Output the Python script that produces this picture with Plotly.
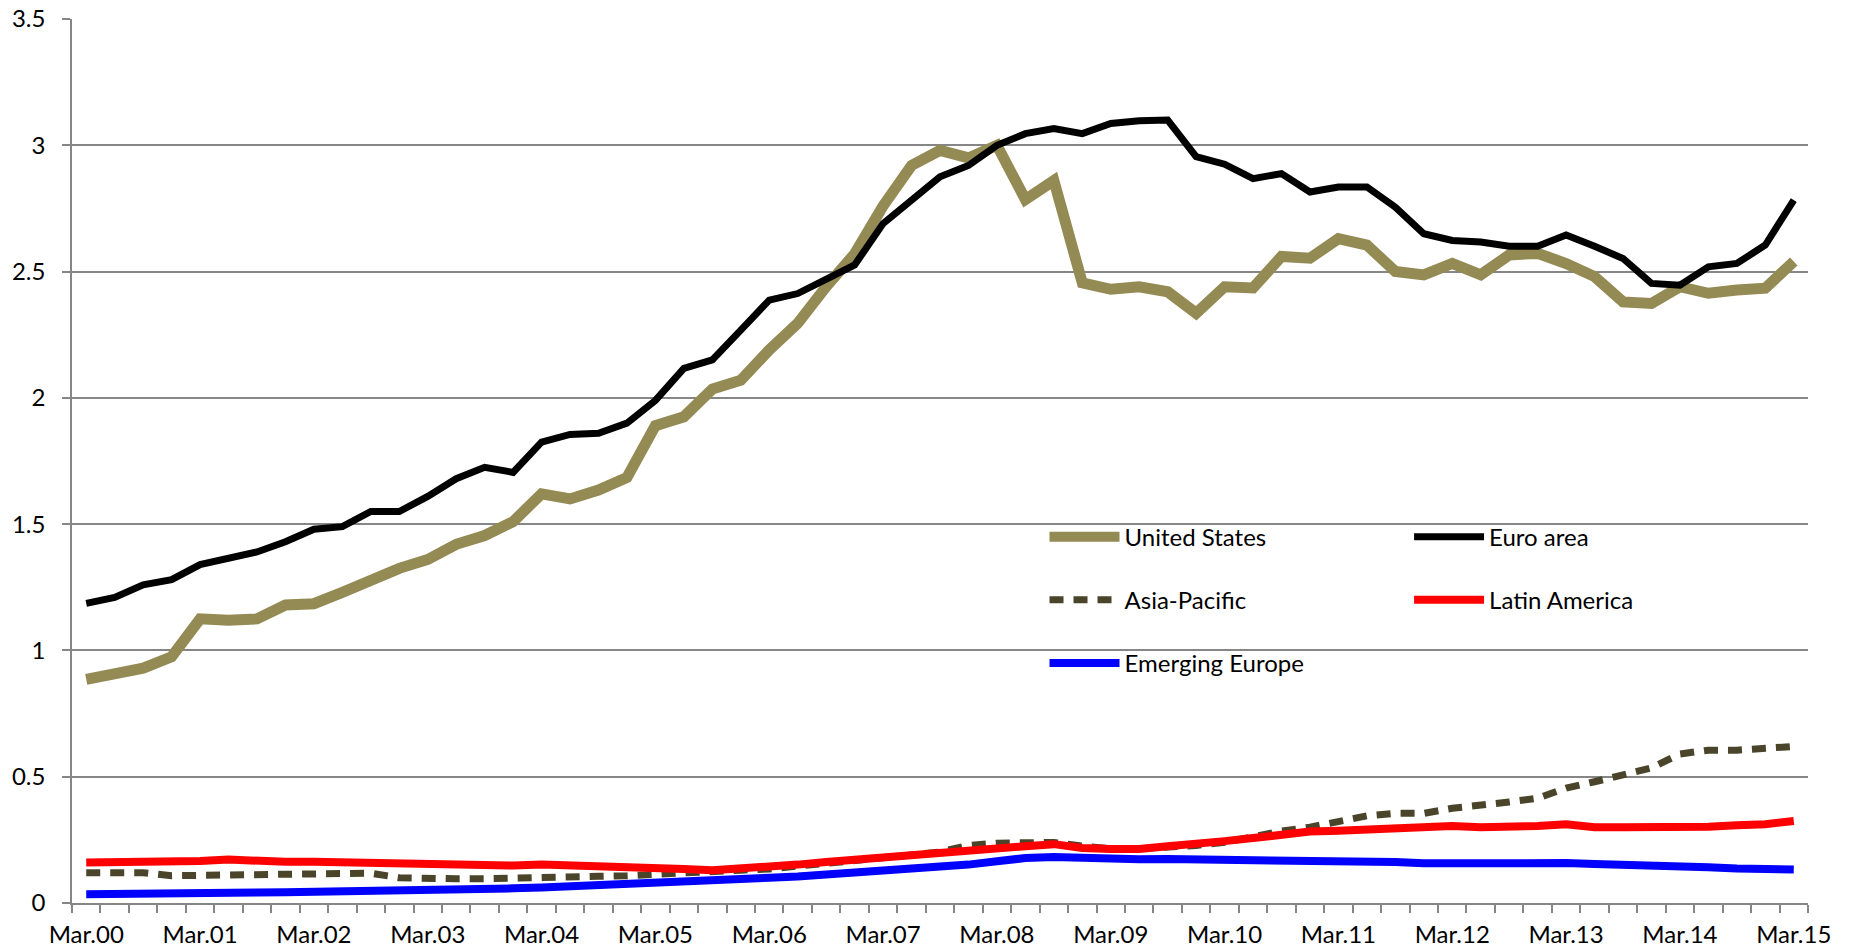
import plotly.graph_objects as go

years = [f"{y:02d}" for y in range(0, 16)]
quarters = []
for y in years:
    for m in ["Mar", "Jun", "Sep", "Dec"]:
        quarters.append(f"{m}.{y}")
quarters = quarters[:61]  # Mar.00 .. Mar.15

united_states = [0.885, 0.905, 0.93, 0.975, 1.125, 1.12, 1.125, 1.18, 1.185, 1.23,
                 1.28, 1.325, 1.36, 1.42, 1.455, 1.51, 1.62, 1.60, 1.635, 1.685,
                 1.89, 1.925, 2.035, 2.07, 2.19, 2.295, 2.44, 2.57, 2.76, 2.92,
                 2.98, 2.95, 3.0, 2.785, 2.86, 2.455, 2.43, 2.44, 2.42, 2.335,
                 2.44, 2.435, 2.56, 2.553, 2.63, 2.605, 2.5, 2.487, 2.532, 2.487,
                 2.566, 2.572, 2.532, 2.48, 2.38, 2.374, 2.44, 2.414, 2.427, 2.434,
                 2.54]
euro_area = [1.186, 1.21, 1.26, 1.28, 1.34, 1.364, 1.39, 1.43, 1.48, 1.49,
             1.55, 1.55, 1.61, 1.68, 1.725, 1.705, 1.825, 1.855, 1.86, 1.90,
             1.99, 2.117, 2.15, 2.268, 2.387, 2.413, 2.467, 2.526, 2.69, 2.78,
             2.875, 2.92, 3.0, 3.046, 3.066, 3.046, 3.086, 3.097, 3.1, 2.955,
             2.925, 2.868, 2.888, 2.815, 2.835, 2.835, 2.755, 2.65, 2.623, 2.617,
             2.6, 2.6, 2.645, 2.6, 2.552, 2.453, 2.446, 2.519, 2.532, 2.605,
             2.783]
asia_pacific = [0.12, 0.12, 0.12, 0.108, 0.11, 0.113, 0.112, 0.112, 0.113, 0.115,
                0.118, 0.10, 0.096, 0.096, 0.096, 0.097, 0.104, 0.105, 0.106, 0.108,
                0.112, 0.118, 0.125, 0.13, 0.135, 0.145, 0.157, 0.167, 0.176, 0.19,
                0.202, 0.228, 0.237, 0.241, 0.24, 0.225, 0.215, 0.215, 0.22, 0.228,
                0.24, 0.265, 0.285, 0.30, 0.32, 0.345, 0.355, 0.355, 0.375, 0.385,
                0.40, 0.415, 0.455, 0.48, 0.505, 0.535, 0.59, 0.605, 0.605, 0.61,
                0.62]
latin_america = [0.16, 0.16, 0.163, 0.162, 0.166, 0.172, 0.165, 0.163, 0.163, 0.16,
                 0.156, 0.153, 0.152, 0.152, 0.15, 0.148, 0.152, 0.15, 0.143, 0.14,
                 0.137, 0.135, 0.13, 0.135, 0.142, 0.152, 0.162, 0.172, 0.18, 0.19,
                 0.197, 0.205, 0.215, 0.225, 0.233, 0.218, 0.214, 0.214, 0.225, 0.232,
                 0.245, 0.257, 0.27, 0.283, 0.286, 0.29, 0.292, 0.295, 0.305, 0.30,
                 0.30, 0.305, 0.312, 0.30, 0.30, 0.30, 0.30, 0.302, 0.308, 0.312,
                 0.325]
emerging_europe = [0.035, 0.035, 0.036, 0.038, 0.04, 0.041, 0.042, 0.043, 0.044, 0.045,
                   0.047, 0.049, 0.051, 0.053, 0.055, 0.058, 0.061, 0.065, 0.07, 0.075,
                   0.082, 0.088, 0.092, 0.095, 0.10, 0.105, 0.112, 0.12, 0.128, 0.135,
                   0.142, 0.152, 0.165, 0.178, 0.182, 0.178, 0.174, 0.173, 0.174, 0.173,
                   0.172, 0.168, 0.172, 0.165, 0.166, 0.167, 0.162, 0.157, 0.158, 0.158,
                   0.158, 0.159, 0.158, 0.154, 0.153, 0.15, 0.147, 0.142, 0.137, 0.134,
                   0.133]

tick_text = [q if q.startswith("Mar") else "" for q in quarters]

series = [
    ("United States", united_states, "#948A54", 11, "solid", "legend"),
    ("Euro area", euro_area, "#000000", 7, "solid", "legend2"),
    ("Asia-Pacific", asia_pacific, "#4A452A", 7, "14px,10px", "legend"),
    ("Latin America", latin_america, "#FF0000", 8, "solid", "legend2"),
    ("Emerging Europe", emerging_europe, "#0000FF", 8, "solid", "legend"),
]

fig = go.Figure()
for name, vals, color, width, dash, leg in series:
    fig.add_trace(go.Scatter(
        x=quarters, y=vals, name=name, mode="lines",
        line=dict(color=color, width=width, dash=dash),
        legend=leg, legendgroup=name,
    ))

FONT = dict(family="Lato", size=24, color="#000000")
GRID = "#868686"

legend_common = dict(xanchor="left", yanchor="top", bgcolor="rgba(0,0,0,0)",
                     font=FONT, tracegroupgap=29, traceorder="grouped",
                     itemwidth=70)

fig.update_layout(
    width=1855, height=950,
    margin=dict(l=72, r=47, t=19, b=47, autoexpand=False),
    paper_bgcolor="white", plot_bgcolor="white",
    font=FONT,
    showlegend=True,
    legend=dict(x=0.5602, y=0.4394, **legend_common),
    legend2=dict(x=0.7702, y=0.4394, **legend_common),
    xaxis=dict(type="category", tickmode="array", tickvals=quarters, ticktext=tick_text,
               tickson="boundaries", ticks="outside", ticklen=8, tickcolor=GRID,
               tickwidth=1.5, tickangle=0, showgrid=False, showline=True,
               linecolor=GRID, linewidth=1.5, range=[-0.5, 60.5], tickfont=FONT,
               ticklabelstandoff=9, automargin=False),
    yaxis=dict(range=[0, 3.5], dtick=0.5, tick0=0, showgrid=True, gridcolor=GRID,
               gridwidth=1.5, showline=True, linecolor=GRID, linewidth=1.5,
               ticks="outside", ticklen=8, tickcolor=GRID, tickwidth=1.5,
               zeroline=False, tickfont=FONT, ticklabelstandoff=12, automargin=False),
)

fig.write_html("out.html", config={"displayModeBar": False},
               post_script="document.body.style.margin='0';")
